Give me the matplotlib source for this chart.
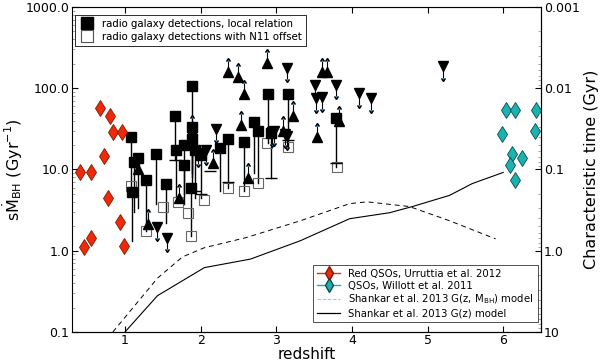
import numpy as np
import matplotlib
matplotlib.use("Agg")
import matplotlib.pyplot as plt
from matplotlib.lines import Line2D
from matplotlib.ticker import FixedLocator, FixedFormatter, NullFormatter, LogLocator

# ---------------- data ----------------
red_z = [0.41, 0.55, 0.67, 0.80, 0.84, 0.96, 0.72, 0.78, 0.93, 0.55, 0.46, 0.99]
red_s = [9.2, 9.2, 56.6, 45.0, 28.6, 28.6, 14.5, 4.5, 2.28, 1.45, 1.12, 1.15]

cyan_z = [6.04, 6.16, 6.43, 5.99, 6.42, 6.12, 6.25, 6.09, 6.16]
cyan_s = [54.0, 54.0, 54.0, 27.0, 29.5, 15.3, 14.0, 11.2, 7.5]

# filled squares (local relation) and the low end of their stems (N11 offset)
sq_z = [1.88, 1.66, 1.08, 1.41, 1.17, 1.12, 1.28, 1.09, 1.54, 1.67, 1.78, 1.89, 1.89,
        1.78, 1.92, 2.01, 1.87, 2.26, 2.36, 2.58, 2.89, 3.16, 2.71, 2.76, 2.93, 3.79]
sq_s = [106, 46, 24.8, 15.3, 13.7, 12.2, 7.5, 5.3, 6.7, 17.2, 19.8, 33, 24,
        11.5, 17.2, 14.9, 6.0, 18.2, 24, 21.5, 84, 84, 38, 30, 27.8, 43.6]
sq_low = [8.0, 13.0, 6.2, 3.8, 3.4, 3.0, 1.77, 1.3, 2.2, 4.5, 5.0, 9.0, 6.5,
          3.8, 4.5, 4.4, 1.53, 5.5, 6.0, 5.5, 21, 19, 9.0, 6.9, 7.9, 10.6]
open_z = [1.08, 1.28, 1.83, 1.87, 2.36, 2.58, 2.88, 2.76, 3.16, 3.80, 1.70, 2.05, 1.50]
open_s = [6.2, 1.77, 2.9, 1.53, 6.0, 5.5, 21, 6.9, 19, 10.6, 4.0, 4.2, 3.5]
cap_z = [1.66, 2.93, 3.16, 3.79, 2.01, 1.92, 2.36, 2.12]
cap_s = [13.0, 7.9, 23, 12.0, 5.0, 5.5, 7.0, 9.5]

# upward triangles (lower limits)
tu_z = [2.36, 2.49, 2.57, 2.88, 3.22, 3.09, 1.89, 2.53, 2.16, 2.63, 1.17,
        3.60, 3.67, 3.54, 3.83, 1.30, 1.71]
tu_s = [158, 137, 84, 204, 46, 30, 31, 35, 11.9, 7.9, 10.0,
        158, 158, 24.8, 40, 2.15, 4.4]

# downward triangles (upper limits)
td_z = [3.14, 2.95, 2.21, 3.12, 2.07, 1.42, 1.55, 3.51, 3.53, 3.60, 3.79,
        4.10, 4.25, 5.20, 2.97, 3.14, 1.96]
td_s = [177, 28.6, 31.6, 27.5, 17.2, 1.98, 1.45, 110, 75, 77, 110,
        87, 75, 186, 29.5, 26, 16.0]

# Shankar et al. 2013 models
gzm_z = [0.84, 1.43, 1.76, 2.05, 2.6, 3.32, 3.97, 4.2, 4.76, 5.29, 5.9]
gzm_s = [0.1, 0.46, 0.84, 1.09, 1.45, 2.34, 3.8, 4.0, 3.5, 2.34, 1.4]
gz_z = [1.0, 1.43, 2.05, 2.66, 3.32, 3.97, 4.5, 4.8, 5.29, 5.59, 6.0]
gz_s = [0.1, 0.28, 0.62, 0.79, 1.33, 2.48, 2.94, 3.5, 4.8, 6.7, 9.2]

xticks = [1, 2, 3, 4, 5, 6]
yticks = [0.1, 1.0, 10.0, 100.0, 1000.0]
yticklabels = ["0.1", "1.0", "10.0", "100.0", "1000.0"]
rticks = [0.001, 0.01, 0.1, 1.0, 10]
rticklabels = ["0.001", "0.01", "0.1", "1.0", "10"]

# ---------------- plot ----------------
fig = plt.figure(figsize=(6.0, 3.61), dpi=100)
ax = fig.add_axes([0.12, 0.0803, 0.7817, 0.9004])
ax.set_yscale("log")
ax.set_xlim(0.3, 6.5)
ax.set_ylim(0.1, 1000)

MS = 7.5

# models
ax.plot(gzm_z, gzm_s, color="black", lw=0.7, ls=(0, (5, 4)), zorder=1)
ax.plot(gz_z, gz_s, color="black", lw=0.8, zorder=1)

# stems of the squares
for z, s, lo in zip(sq_z, sq_s, sq_low):
    ax.plot([z, z], [lo, s], color="black", lw=1.0, zorder=2)
ax.plot(open_z, open_s, ls="none", marker="s", ms=MS, mfc="none", mec="#666666",
        mew=0.8, zorder=2)
ax.plot(cap_z, cap_s, ls="none", marker="_", ms=8, mec="black", mew=1.0, zorder=2)

# limits arrows
tu_s_arr = np.array(tu_s)
ax.errorbar(tu_z, tu_s, yerr=[np.zeros_like(tu_s_arr), tu_s_arr * 0.38],
            lolims=True, fmt="none", ecolor="black", elinewidth=0.8, capsize=1.5, zorder=2)
td_s_arr = np.array(td_s)
ax.errorbar(td_z, td_s, yerr=[td_s_arr * (1 - 1 / 1.38), np.zeros_like(td_s_arr)],
            uplims=True, fmt="none", ecolor="black", elinewidth=0.8, capsize=1.5, zorder=2)

ax.plot(sq_z, sq_s, ls="none", marker="s", ms=MS, mfc="black", mec="black", zorder=3)
ax.plot(tu_z, tu_s, ls="none", marker="^", ms=MS, mfc="black", mec="black", zorder=3)
ax.plot(td_z, td_s, ls="none", marker="v", ms=MS, mfc="black", mec="black", zorder=3)

ax.plot(red_z, red_s, ls="none", marker="d", ms=8, mfc="#ee2a0b", mec="#7a1a00",
        mew=0.6, zorder=4)
ax.plot(cyan_z, cyan_s, ls="none", marker="d", ms=8, mfc="#1ab3b0", mec="#0a4a4a",
        mew=0.6, zorder=4)

# axes styling
ax.set_xticks(xticks)
ax.set_xticklabels([str(t) for t in xticks])
ax.yaxis.set_major_locator(FixedLocator(yticks))
ax.yaxis.set_major_formatter(FixedFormatter(yticklabels))
ax.yaxis.set_minor_locator(LogLocator(base=10, subs=np.arange(2, 10)))
ax.yaxis.set_minor_formatter(NullFormatter())
ax.tick_params(axis="both", which="major", direction="in", labelsize=9, length=4,
               top=True, pad=2)
ax.tick_params(axis="x", which="major", pad=1.5)
ax.tick_params(axis="y", which="minor", direction="in", length=2, color="#999999")
for sp in ["left", "top"]:
    ax.spines[sp].set_color("#888888")
ax.spines["left"].set_linewidth(0.5)

ax.set_xlabel("redshift", fontsize=11, labelpad=0)
ax.set_ylabel(r"s$\dot{\rm M}_{\rm BH}$ (Gyr$^{-1}$)", fontsize=11.5, labelpad=0)

ax2 = ax.twinx()
ax2.set_yscale("log")
ax2.set_ylim(10, 0.001)
ax2.yaxis.set_major_locator(FixedLocator(rticks))
ax2.yaxis.set_major_formatter(FixedFormatter(rticklabels))
ax2.yaxis.set_minor_locator(LogLocator(base=10, subs=np.arange(2, 10)))
ax2.yaxis.set_minor_formatter(NullFormatter())
ax2.tick_params(axis="y", which="major", direction="in", labelsize=9, length=4, pad=2)
ax2.tick_params(axis="y", which="minor", direction="in", length=2, color="#999999")
ax2.set_ylabel("Characteristic time (Gyr)", fontsize=11.5, labelpad=3)

# legends
h1 = [Line2D([], [], ls="none", marker="s", ms=8, mfc="black", mec="black"),
      Line2D([], [], ls="none", marker="s", ms=8, mfc="none", mec="#555555", mew=0.8)]
leg1 = ax.legend(h1, ["radio galaxy detections, local relation",
                      "radio galaxy detections with N11 offset"],
                 loc="upper left", bbox_to_anchor=(0.0, 0.985), fontsize=7.3,
                 frameon=True, fancybox=False, edgecolor="black", handlelength=1.5,
                 borderaxespad=0.3, labelspacing=0.3, borderpad=0.4)
leg1.get_frame().set_linewidth(0.6)
ax.add_artist(leg1)

h2 = [Line2D([0], [0], ls="-", lw=1.0, color="#ee2a0b", marker="d", ms=7,
             mfc="#ee2a0b", mec="#7a1a00"),
      Line2D([0], [0], ls="-", lw=1.0, color="#1ab3b0", marker="d", ms=7,
             mfc="#1ab3b0", mec="#0a4a4a"),
      Line2D([0], [0], ls="--", lw=0.7, color="#bbbbbb"),
      Line2D([0], [0], ls="-", lw=0.9, color="black")]
leg2 = ax2.legend(h2, ["Red QSOs, Urruttia et al. 2012", "QSOs, Willott et al. 2011",
                       r"Shankar et al. 2013 G(z, M$_{\rm BH}$) model",
                       "Shankar et al. 2013 G(z) model"],
                  loc="lower right", bbox_to_anchor=(1.0, 0.02), fontsize=7.3,
                  frameon=True, fancybox=False,
                  edgecolor="black", handlelength=2.3, borderaxespad=0.3,
                  labelspacing=0.2, borderpad=0.4)
leg2.get_frame().set_linewidth(0.6)

fig.savefig("out.png", dpi=100)
